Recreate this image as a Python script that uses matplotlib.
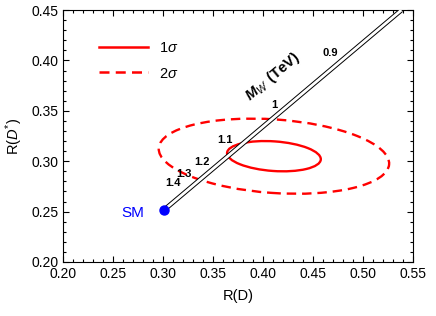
import matplotlib
matplotlib.use("Agg")
import matplotlib.pyplot as plt
from matplotlib.patches import Ellipse
from matplotlib.ticker import MultipleLocator
from matplotlib.lines import Line2D

plt.rcParams['font.family'] = ['Liberation Sans', 'DejaVu Sans']
plt.rcParams['mathtext.fontset'] = 'custom'
plt.rcParams['mathtext.rm'] = 'Liberation Sans'
plt.rcParams['mathtext.it'] = 'Liberation Sans:italic'
plt.rcParams['mathtext.bf'] = 'Liberation Sans:bold'
plt.rcParams['mathtext.bfit'] = 'Liberation Sans:italic:bold'

# W' line from SM point
line_rd = [0.301, 0.5385]
line_rds = [0.2516, 0.45]

# mass labels along the line (TeV)
mass_labels = ["0.9", "1", "1.1", "1.2", "1.3", "1.4"]
mass_x = [0.467, 0.411, 0.362, 0.339, 0.321, 0.310]
mass_y = [0.4073, 0.3558, 0.321, 0.2992, 0.2873, 0.2784]

# SM point
sm_rd = 0.301
sm_rds = 0.2516

# experimental ellipses: center, full width, full height, angle
ell_center = (0.411, 0.305)
ell_1s = (0.094, 0.0294, -4.0)
ell_2s = (0.231, 0.073, -4.0)

fig = plt.figure(figsize=(4.36, 3.16), dpi=100)
ax = fig.add_axes([0.1445, 0.171, 0.8025, 0.797])

ax.plot(line_rd, line_rds, color='black', lw=3.4, solid_capstyle='butt', zorder=3)
ax.plot(line_rd, line_rds, color='white', lw=2.0, solid_capstyle='butt', zorder=4)

for w, h, ang, ls in [(*ell_1s, '-'), (*ell_2s, '--')]:
    e = Ellipse(ell_center, w, h, angle=ang, fill=False, edgecolor='red',
                lw=1.7, linestyle=ls, zorder=2)
    if ls == '--':
        e.set_linestyle((0, (4, 2.5)))
    ax.add_patch(e)

ax.plot(sm_rd, sm_rds, 'o', color='blue', ms=6.5, zorder=5)
ax.text(0.27, 0.249, "SM", color='blue', fontsize=11, ha='center', va='center')

for lab, x, y in zip(mass_labels, mass_x, mass_y):
    ax.text(x, y, lab, fontsize=8, fontweight='bold', ha='center', va='center')

ax.text(0.41, 0.3835, r"$\boldsymbol{M}_{\boldsymbol{W'}}$ (TeV)", fontsize=10.5,
        fontweight='bold', rotation=40, ha='center', va='center',
        rotation_mode='anchor')

handles = [Line2D([], [], color='red', lw=1.8, ls='-'),
           Line2D([], [], color='red', lw=1.8, ls=(0, (4, 2.5)))]
ax.legend(handles, [r"1$\sigma$", r"2$\sigma$"], loc='upper left', frameon=False,
          fontsize=10.5, handlelength=3.4, handletextpad=0.7, labelspacing=0.8,
          bbox_to_anchor=(0.065, 0.93))

ax.set_xlim(0.20, 0.55)
ax.set_ylim(0.20, 0.45)
ax.xaxis.set_major_locator(MultipleLocator(0.05))
ax.yaxis.set_major_locator(MultipleLocator(0.05))
ax.xaxis.set_minor_locator(MultipleLocator(0.01))
ax.yaxis.set_minor_locator(MultipleLocator(0.01))
ax.xaxis.set_major_formatter(plt.FormatStrFormatter('%.2f'))
ax.yaxis.set_major_formatter(plt.FormatStrFormatter('%.2f'))
ax.tick_params(which='both', direction='in', top=True, right=True, labelsize=10, width=0.8)
ax.tick_params(which='major', length=4)
ax.tick_params(which='minor', length=2.2)
for s in ax.spines.values():
    s.set_linewidth(0.8)

ax.set_xlabel("R(D)", fontsize=10.5, labelpad=6)
ax.set_ylabel(r"R($D^{*}$)", fontsize=10.5, labelpad=4)

fig.savefig("out.png", dpi=100)
